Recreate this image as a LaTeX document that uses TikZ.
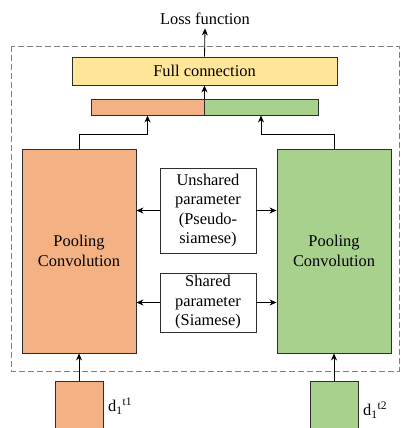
\documentclass[tikz,border=0pt]{standalone}
\usepackage{fontspec}
\setmainfont{Liberation Serif}
\usetikzlibrary{arrows.meta}
\definecolor{siamorange}{RGB}{244,177,131}
\definecolor{siamgreen}{RGB}{169,209,142}
\definecolor{siamyellow}{RGB}{255,230,153}
\definecolor{siamline}{RGB}{45,45,45}
\tikzset{
  txt/.style={font=\fontsize{16.4}{19.5}\selectfont},
  block/.style={txt, draw=siamline, line width=0.9pt, inner sep=0pt, align=center},
  arr/.style={-{Stealth[length=7pt,width=6pt]}, line width=0.8pt}
}

\begin{document}
\begin{tikzpicture}[x=1pt,y=-1pt]
    \clip (0,0) rectangle (400,428);
    % Siamese frame
    \draw[draw=gray, line width=0.8pt, dash pattern=on 6pt off 3pt] (11,46) rectangle (399,371);

    % Output side
    \node[txt] (loss) at (205,19) {Loss function};
    \node[block, fill=siamyellow, minimum width=265pt, minimum height=28pt] (fc) at (204.5,71) {Full connection};
    \node[block, fill=siamorange, minimum width=113pt, minimum height=16pt] (catl) at (147.5,107) {};
    \node[block, fill=siamgreen, minimum width=114pt, minimum height=16pt] (catr) at (261,107) {};

    % Two branches
    \node[block, fill=siamorange, minimum width=114pt, minimum height=204pt] (pooll) at (79,251) {Pooling\\Convolution};
    \node[block, fill=siamgreen, minimum width=114pt, minimum height=204pt] (poolr) at (334,251) {Pooling\\Convolution};

    % Parameter modes
    \node[block, fill=white, minimum width=96pt, minimum height=85pt] (unshared) at (208,210.5) {Unshared\\parameter\\(Pseudo-\\siamese)};
    \node[block, fill=white, minimum width=96pt, minimum height=59pt] (shared) at (208,302.5) {Shared\\parameter\\(Siamese)};

    % Inputs
    \node[block, fill=siamorange, minimum width=48pt, minimum height=58pt] (inl) at (79,410) {};
    \node[block, fill=siamgreen, minimum width=48pt, minimum height=58pt] (inr) at (334,410) {};
    \node[txt, anchor=west, inner sep=0pt] (dl) at (108,406) {d\textsubscript{1}\textsuperscript{t1}};
    \node[txt, anchor=west, inner sep=0pt] (dr) at (363,410) {d\textsubscript{1}\textsuperscript{t2}};

    % Connectors
    \draw[arr] (fc.north) -- (loss.south);
    \draw[arr] (catl.north east) -- (catl.north east |- fc.south);
    \draw[arr] (pooll.north) -- ++(0,-14) -| (catl.south);
    \draw[arr] (poolr.north) -- ++(0,-14) -| (catr.south);
    \draw[arr] (unshared.west) -- (pooll.east |- unshared.west);
    \draw[arr] (unshared.east) -- (poolr.west |- unshared.east);
    \draw[arr] (shared.west) -- (pooll.east |- shared.west);
    \draw[arr] (shared.east) -- (poolr.west |- shared.east);
    \draw[arr] (inl.north) -- (pooll.south);
    \draw[arr] (inr.north) -- (poolr.south);
\end{tikzpicture}
\end{document}
